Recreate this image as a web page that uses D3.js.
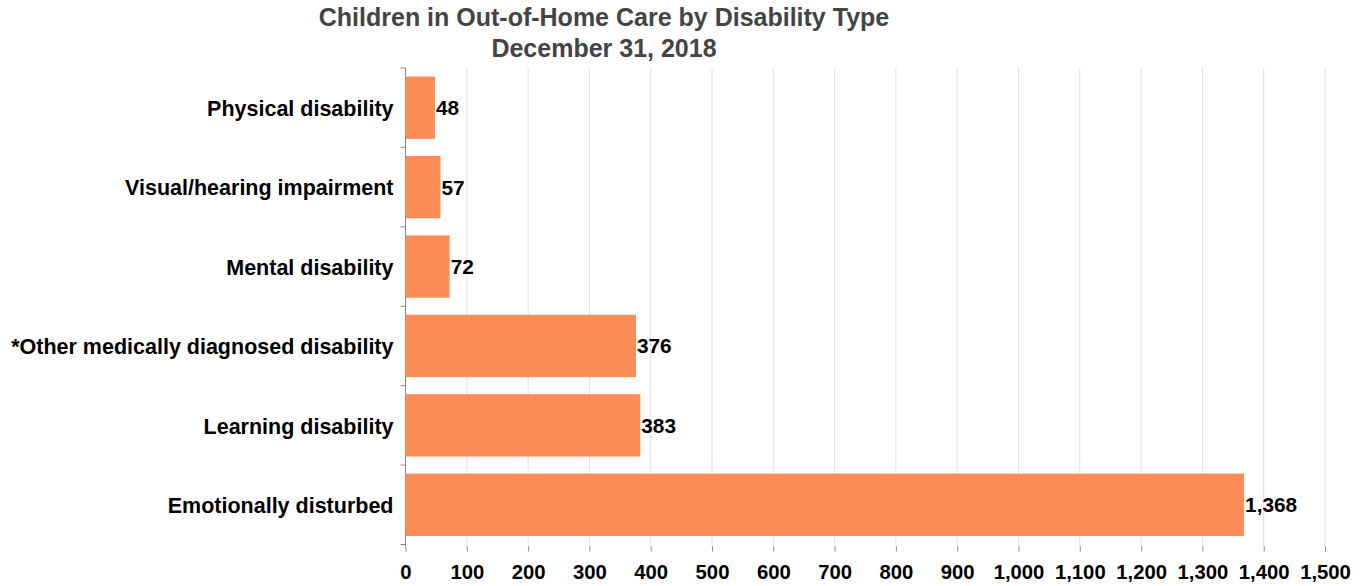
<!DOCTYPE html>
<html>
<head>
<meta charset="utf-8">
<script src="https://cdn.jsdelivr.net/npm/d3@7"></script>
<style>
  html, body { margin: 0; padding: 0; background: #fff; }
  svg { display: block; font-family: "Liberation Sans", Arial, sans-serif; }
</style>
</head>
<body>
<svg id="chart" width="1367" height="586"></svg>
<script>
const categories = [
  "Physical disability",
  "Visual/hearing impairment",
  "Mental disability",
  "*Other medically diagnosed disability",
  "Learning disability",
  "Emotionally disturbed"
];
const values = [48, 57, 72, 376, 383, 1368];
const xTicks = [0,100,200,300,400,500,600,700,800,900,1000,1100,1200,1300,1400,1500];
const titleLines = ["Children in Out-of-Home Care by Disability Type", "December 31, 2018"];

(function () {
const data = categories.map((c, i) => ({ c, v: values[i] }));
const svg = d3.select("#chart");

const pLeft = 405.5, pRight = 1325, pTop = 68, pBottom = 544.5;
const x = d3.scaleLinear().domain([0, 1500]).range([pLeft, pRight]);
const y = d3.scaleBand().domain(categories).range([pTop, pBottom]).paddingInner(0.215).paddingOuter(0.1075);
const fmt = d3.format(",");

// grid lines
svg.append("g").selectAll("line").data(xTicks).join("line")
  .attr("x1", d => x(d)).attr("x2", d => x(d))
  .attr("y1", pTop).attr("y2", pBottom + 2)
  .attr("stroke", "#e0e0e0").attr("stroke-width", 1);

// x axis
const xAxis = d3.axisBottom(x).tickValues(xTicks).tickFormat(fmt).tickSize(5).tickPadding(13);
const gx = svg.append("g").attr("transform", `translate(0,${pBottom + 2})`).call(xAxis);
gx.select(".domain").remove();
gx.selectAll(".tick line").attr("stroke", "#888");
gx.selectAll(".tick text").attr("font-size", "20.3px").attr("font-weight", "bold").attr("fill", "#000")
  .attr("font-family", "Liberation Sans, Arial, sans-serif");

// y axis line and ticks at band edges
svg.append("line").attr("x1", pLeft).attr("x2", pLeft).attr("y1", pTop).attr("y2", pBottom + 2)
  .attr("stroke", "#888");
const edges = categories.map(c => y(c) - y.step() * y.paddingOuter()).concat([pBottom]);
svg.append("g").selectAll("line").data(edges).join("line")
  .attr("x1", pLeft - 5).attr("x2", pLeft).attr("y1", d => d).attr("y2", d => d)
  .attr("stroke", "#888");

// category labels
svg.append("g").selectAll("text").data(data).join("text")
  .attr("x", pLeft - 12).attr("y", d => y(d.c) + y.bandwidth() / 2)
  .attr("dy", "0.38em").attr("text-anchor", "end")
  .attr("font-size", "21.5px").attr("font-weight", "bold").attr("fill", "#000")
  .text(d => d.c);

// bars
svg.append("g").selectAll("rect").data(data).join("rect")
  .attr("x", x(0)).attr("y", d => y(d.c))
  .attr("width", d => x(d.v) - x(0)).attr("height", y.bandwidth())
  .attr("fill", "#fc8d59");

// value labels
svg.append("g").selectAll("text").data(data).join("text")
  .attr("x", d => x(d.v) + 1).attr("y", d => y(d.c) + y.bandwidth() / 2)
  .attr("dy", "0.36em")
  .attr("font-size", "20.8px").attr("font-weight", "bold").attr("fill", "#000")
  .text(d => fmt(d.v));

// title
svg.append("g").selectAll("text").data(titleLines).join("text")
  .attr("x", 604).attr("y", (d, i) => 26 + i * 31.3)
  .attr("text-anchor", "middle")
  .attr("font-size", "25px").attr("font-weight", "bold").attr("fill", "#444")
  .text(d => d);
})();
</script>
</body>
</html>
